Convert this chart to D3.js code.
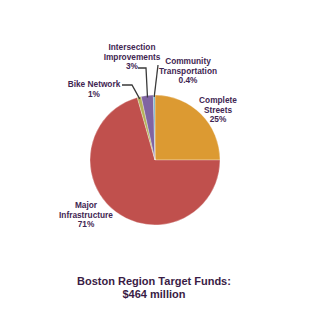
<!DOCTYPE html>
<html>
<head>
<meta charset="utf-8">
<script src="https://cdn.jsdelivr.net/npm/d3@7"></script>
<style>
  body { margin: 0; background: #fff; }
  text { font-family: "Liberation Sans", Arial, sans-serif; font-weight: bold; fill: #3f2652; }
</style>
</head>
<body>
<div id="chart"></div>
<script>
// slices clockwise from 12 o'clock
const categories = ["Complete Streets", "Major Infrastructure", "Bike Network", "Intersection Improvements", "Community Transportation"];
const values = [25.0, 70.6, 1.0, 3.0, 0.4];
const shownPct = ["25%", "71%", "1%", "3%", "0.4%"];
const colors = ["#dc9a32", "#c0504d", "#b5b25a", "#8064a2", "#6fb1c4"];
const titleLines = ["Boston Region Target Funds:", "$464 million"];

const W = 314, H = 318;
const cx = 155, cy = 160, r = 65;

const svg = d3.select("#chart").append("svg")
  .attr("width", W)
  .attr("height", H);

const pie = d3.pie().sort(null).value(d => d);
const arcs = pie(values);
const arc = d3.arc().innerRadius(0).outerRadius(r);

const g = svg.append("g").attr("transform", `translate(${cx},${cy})`);

g.selectAll("path")
  .data(arcs)
  .enter()
  .append("path")
  .attr("d", arc)
  .attr("fill", (d, i) => colors[i])
  .attr("stroke", "#fff")
  .attr("stroke-width", 0.3);

// label lines per slice, text anchor point (relative to page)
const labels = [
  { lines: ["Complete", "Streets", shownPct[0]], x: 218, y: 103 },
  { lines: ["Major", "Infrastructure", shownPct[1]], x: 86, y: 208 },
  { lines: ["Bike Network", shownPct[2]], x: 94, y: 87 },
  { lines: ["Intersection", "Improvements", shownPct[3]], x: 132, y: 50 },
  { lines: ["Community", "Transportation", shownPct[4]], x: 188, y: 64 }
];

labels.forEach(l => {
  const t = svg.append("text")
    .attr("text-anchor", "middle")
    .attr("font-size", 8.3);
  l.lines.forEach((s, k) => {
    t.append("tspan")
      .attr("x", l.x)
      .attr("y", l.y + k * 9.5)
      .text(s);
  });
});

// leader lines, end point on the slice computed from the arc
function edgePoint(a, rr) {
  const ang = (a.startAngle + a.endAngle) / 2;
  return [cx + Math.sin(ang) * rr, cy - Math.cos(ang) * rr];
}
const leaders = [
  { i: 2, pts: [[122, 85], [132, 85]] },
  { i: 3, pts: [[138, 68], [146, 68]] },
  { i: 4, pts: [[158, 65]] }
];
leaders.forEach(ld => {
  const p = ld.pts.concat([edgePoint(arcs[ld.i], r - 2)]);
  svg.append("path")
    .attr("d", d3.line()(p))
    .attr("fill", "none")
    .attr("stroke", "#3a3a3a")
    .attr("stroke-width", 1.3);
});

// title
svg.append("text")
  .attr("text-anchor", "middle")
  .attr("font-size", 11)
  .style("fill", "#3a1c45")
  .selectAll("tspan")
  .data(titleLines)
  .enter()
  .append("tspan")
  .attr("x", 154)
  .attr("y", (d, i) => 285 + i * 12.5)
  .text(d => d);
</script>
</body>
</html>
